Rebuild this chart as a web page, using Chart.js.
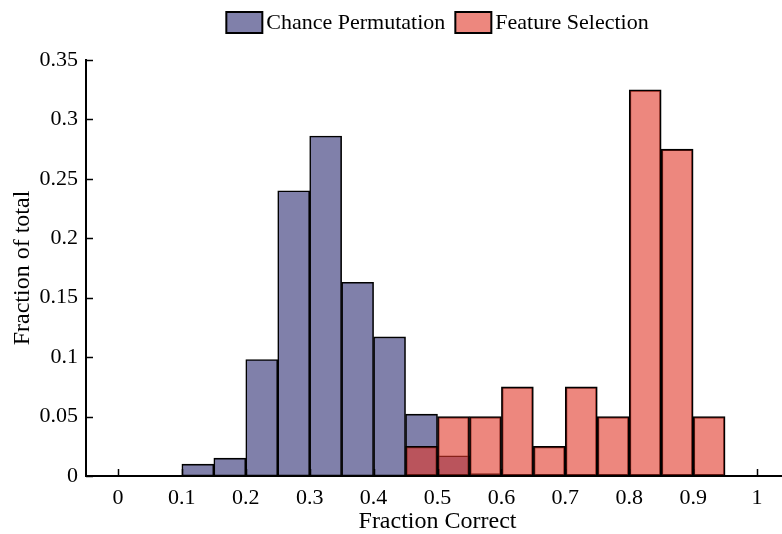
<!DOCTYPE html>
<html>
<head>
<meta charset="utf-8">
<script src="https://cdn.jsdelivr.net/npm/chart.js@4/dist/chart.umd.min.js"></script>
<style>
  html, body { margin: 0; padding: 0; overflow: hidden; background: #fff; width: 782px; height: 534px; }
  #wrap { position: absolute; left: 0; top: 0; width: 790px; height: 534px; }
</style>
</head>
<body>
<div id="wrap"><canvas id="c"></canvas></div>
<script>
// Bin centres (bin width 0.05, from 0 to 1)
const binCenters = [0.025, 0.075, 0.125, 0.175, 0.225, 0.275, 0.325, 0.375, 0.425, 0.475,
                    0.525, 0.575, 0.625, 0.675, 0.725, 0.775, 0.825, 0.875, 0.925, 0.975];
const chancePermutation = [0, 0, 0.010, 0.015, 0.098, 0.240, 0.286, 0.163, 0.117, 0.052,
                           0.017, 0.002, 0, 0, 0, 0, 0, 0, 0, 0];
const featureSelection  = [0, 0, 0, 0, 0, 0, 0, 0, 0, 0.025,
                           0.050, 0.050, 0.075, 0.025, 0.075, 0.050, 0.325, 0.275, 0.050, 0];
const xTickValues = [0, 0.1, 0.2, 0.3, 0.4, 0.5, 0.6, 0.7, 0.8, 0.9, 1];
const yTickValues = [0, 0.05, 0.1, 0.15, 0.2, 0.25, 0.3, 0.35];
const seriesNames = ['Chance Permutation', 'Feature Selection'];

const FONT = '"Liberation Serif", "Times New Roman", serif';

const toPoints = vals => binCenters.map((c, i) => ({ x: c, y: vals[i] }));

const inwardTicks = {
  id: 'inwardTicks',
  afterDatasetsDraw(chart) {
    const { ctx, scales: { x, y } } = chart;
    ctx.save();
    ctx.strokeStyle = '#000';
    ctx.lineWidth = 1.5;
    x.ticks.forEach(t => {
      const px = Math.round(x.getPixelForValue(t.value)) + 0.5;
      ctx.beginPath(); ctx.moveTo(px, y.bottom); ctx.lineTo(px, y.bottom - 7); ctx.stroke();
    });
    y.ticks.forEach(t => {
      const py = Math.round(y.getPixelForValue(t.value)) + 0.5;
      ctx.beginPath(); ctx.moveTo(x.left, py); ctx.lineTo(x.left + 7, py); ctx.stroke();
    });
    ctx.restore();
  }
};

// Compact legend drawn from the datasets (box, small gap, label)
const compactLegend = {
  id: 'compactLegend',
  afterDraw(chart) {
    const { ctx, chartArea } = chart;
    const boxW = 36, boxH = 21, gap = 4, spacing = 10, boxTop = 12;
    ctx.save();
    ctx.font = '22px ' + FONT;
    const items = chart.data.datasets.map(ds => ({ ds, w: ctx.measureText(ds.label).width }));
    const total = items.reduce((s, it) => s + boxW + gap + it.w, 0) + spacing * (items.length - 1);
    let x = (chartArea.left + chartArea.right) / 2 - total / 2;
    items.forEach(it => {
      ctx.fillStyle = '#fff';
      ctx.fillRect(x, boxTop, boxW, boxH);
      ctx.fillStyle = it.ds.backgroundColor;
      ctx.fillRect(x, boxTop, boxW, boxH);
      ctx.lineWidth = 2;
      ctx.strokeStyle = '#000';
      ctx.strokeRect(x, boxTop, boxW, boxH);
      ctx.fillStyle = '#000';
      ctx.textBaseline = 'middle';
      ctx.textAlign = 'left';
      ctx.fillText(it.ds.label, x + boxW + gap, boxTop + boxH / 2 + 1);
      x += boxW + gap + it.w + spacing;
    });
    ctx.restore();
  }
};

new Chart(document.getElementById('c'), {
  type: 'bar',
  data: {
    datasets: [
      {
        label: seriesNames[0],
        data: toPoints(chancePermutation),
        backgroundColor: 'rgb(128,128,170)',
        borderColor: '#000',
        borderWidth: 1.6,
        borderSkipped: false,
        grouped: false,
        categoryPercentage: 1,
        barPercentage: 1,
        order: 2
      },
      {
        label: seriesNames[1],
        data: toPoints(featureSelection),
        backgroundColor: 'rgba(225,55,40,0.6)',
        borderColor: '#000',
        borderWidth: 1.6,
        borderSkipped: false,
        grouped: false,
        categoryPercentage: 1,
        barPercentage: 1,
        order: 1
      }
    ]
  },
  plugins: [inwardTicks, compactLegend],
  options: {
    responsive: true,
    maintainAspectRatio: false,
    animation: false,
    layout: { padding: { top: 60, right: 1, left: 0, bottom: 0 } },
    plugins: {
      tooltip: { enabled: false },
      legend: { display: false }
    },
    scales: {
      x: {
        type: 'linear',
        min: -0.05,
        max: 1.05,
        offset: false,
        afterBuildTicks: s => { s.ticks = xTickValues.map(v => ({ value: v })); },
        afterFit: s => { s.height = 58; },
        grid: { display: false, drawTicks: false },
        border: { display: true, color: '#000', width: 2 },
        ticks: {
          color: '#000',
          font: { family: FONT, size: 22 },
          padding: 9,
          maxRotation: 0,
          autoSkip: false,
          callback: v => String(+Number(v).toFixed(2))
        },
        title: {
          display: true,
          text: 'Fraction Correct',
          color: '#000',
          font: { family: FONT, size: 24 },
          padding: { top: 0, bottom: -2 }
        }
      },
      y: {
        type: 'linear',
        min: 0,
        max: 0.35,
        afterBuildTicks: s => { s.ticks = yTickValues.map(v => ({ value: v })); },
        afterFit: s => { s.width = 86; },
        grid: { display: false, drawTicks: false },
        border: { display: true, color: '#000', width: 2 },
        ticks: {
          color: '#000',
          font: { family: FONT, size: 22 },
          padding: 8,
          autoSkip: false,
          callback: v => String(+Number(v).toFixed(2))
        },
        title: {
          display: true,
          text: 'Fraction of total',
          color: '#000',
          font: { family: FONT, size: 24 },
          padding: { top: 8, bottom: 0 }
        }
      }
    }
  }
});
</script>
</body>
</html>
